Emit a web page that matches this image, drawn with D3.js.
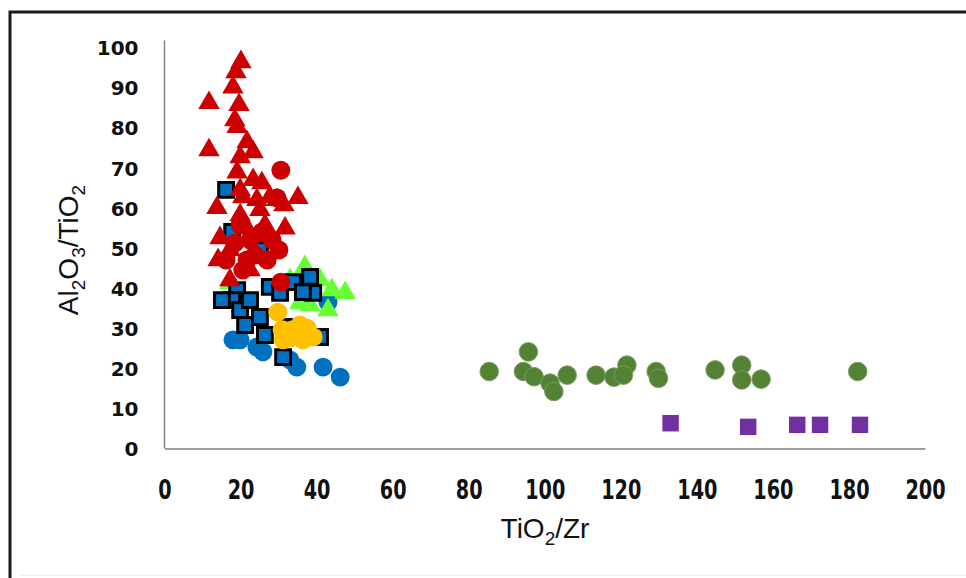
<!DOCTYPE html>
<html>
<head>
<meta charset="utf-8">
<script src="https://cdn.jsdelivr.net/npm/d3@7"></script>
<style>
  body { margin: 0; background: #fff; }
  svg { display: block; }
</style>
</head>
<body>
<svg id="chart" width="966" height="578"></svg>
<script>
// axis ticks
const xTicks = [0, 20, 40, 60, 80, 100, 120, 140, 160, 180, 200];
const yTicks = [0, 10, 20, 30, 40, 50, 60, 70, 80, 90, 100];

// [TiO2/Zr, Al2O3/TiO2]
const redTriangles = [
  [20.1, 96.4], [18.8, 93.9], [18.0, 90.1], [11.7, 86.2], [19.6, 85.7],
  [18.5, 81.9], [19.1, 80.2], [11.7, 74.4], [21.7, 76.4], [19.9, 72.7],
  [23.3, 73.9], [19.1, 68.9], [23.3, 67.0], [25.6, 66.2], [20.6, 62.7],
  [29.6, 62.0], [35.1, 62.5], [13.8, 60.0], [27.7, 62.7], [31.4, 60.7],
  [25.1, 59.5], [24.3, 62.0], [14.6, 52.5], [14.1, 47.0], [19.9, 64.5],
  [21.2, 55.7], [17.2, 49.5], [22.5, 44.5], [19.9, 58.2], [31.7, 54.9],
  [26.4, 55.7], [17.2, 42.0]
];
const redCircles = [
  [30.6, 69.4], [29.6, 62.5], [18.5, 51.2], [21.7, 47.0], [27.0, 47.0],
  [20.6, 44.5], [28.3, 52.0], [30.1, 49.5], [23.8, 48.3], [16.2, 47.0],
  [25.6, 54.0], [19.9, 55.7], [30.6, 41.5], [22.5, 52.0]
];
const blackSquares = [
  [16.2, 64.5], [17.8, 54.0], [25.1, 49.5], [19.1, 39.5], [17.8, 37.0],
  [19.9, 34.5], [22.5, 37.0], [25.1, 32.8], [26.4, 28.3], [31.2, 22.8],
  [27.7, 40.3], [30.4, 38.8], [33.8, 41.5], [38.3, 42.8], [39.1, 38.8],
  [36.4, 39.0], [40.9, 27.8], [32.2, 30.3], [15.1, 37.0], [21.2, 30.8]
];
const blueCircles = [
  [19.9, 27.1], [18.0, 27.1], [24.3, 25.3], [25.9, 24.1], [33.0, 22.1],
  [34.8, 20.3], [41.7, 20.3], [46.2, 17.8], [43.0, 36.5]
];
const greenTriangles = [
  [36.9, 45.3], [47.5, 38.8], [43.0, 34.5], [38.3, 35.8], [35.6, 36.3],
  [17.2, 41.3], [40.9, 42.0], [44.0, 39.5], [33.0, 42.0]
];
const yellowCircles = [
  [29.8, 34.0], [30.9, 29.6], [33.8, 29.6], [37.5, 30.0], [39.1, 27.8],
  [33.0, 27.6], [36.4, 27.1], [31.2, 27.1], [35.6, 30.8]
];
const oliveCircles = [
  [85.4, 19.2], [95.7, 24.1], [94.4, 19.2], [97.2, 17.9], [101.4, 16.3],
  [102.4, 14.2], [105.9, 18.3], [113.5, 18.3], [118.2, 17.8], [121.6, 20.8],
  [120.7, 18.3], [129.3, 19.2], [129.9, 17.5], [144.8, 19.6], [151.8, 20.8],
  [151.8, 17.1], [156.9, 17.3], [182.3, 19.2]
];
const purpleSquares = [
  [133.1, 6.3], [153.5, 5.4], [166.4, 5.9], [172.4, 5.9], [182.9, 5.9]
];

const svg = d3.select("#chart");

// outer frame (top and left edges visible, rest runs off the picture)
svg.append("rect")
  .attr("x", 10).attr("y", 12)
  .attr("width", 1000).attr("height", 600)
  .attr("fill", "none").attr("stroke", "#1a1a1a").attr("stroke-width", 3);
// faint inner edge near the bottom
svg.append("line")
  .attr("x1", 20).attr("x2", 966).attr("y1", 575.5).attr("y2", 575.5)
  .attr("stroke", "#eeeeee").attr("stroke-width", 1);

// scales
const x = d3.scaleLinear().domain([0, 200]).range([164.5, 925]);
const y = d3.scaleLinear().domain([0, 100]).range([448.5, 47.5]);

// axis lines, no tick marks
const xAxis = svg.append("g")
  .attr("transform", `translate(0,${y(0)})`)
  .call(d3.axisBottom(x).tickValues(xTicks).tickSize(0).tickPadding(41));
const yAxis = svg.append("g")
  .attr("transform", `translate(${x(0)},0)`)
  .call(d3.axisLeft(y).tickValues(yTicks).tickSize(0).tickPadding(26));

xAxis.select(".domain").attr("stroke", "#808080").attr("stroke-width", 1.5);
yAxis.select(".domain").attr("stroke", "#808080").attr("stroke-width", 1.5)
  .attr("d", `M0,${y(0)}V${y(0) - 408}`);

xAxis.selectAll("text")
  .attr("font-family", "'DejaVu Sans', sans-serif")
  .attr("font-weight", "bold").attr("font-size", 26).attr("fill", "#111")
  .attr("dy", "0.36em")
  .attr("transform", "scale(0.74,1)");
yAxis.selectAll("text")
  .attr("font-family", "'DejaVu Sans', sans-serif")
  .attr("font-weight", "bold").attr("font-size", 20).attr("fill", "#111")
  .attr("dy", "0.36em");

// axis titles with subscripts
const yTitle = svg.append("text")
  .attr("transform", "translate(78,250) rotate(-90)")
  .attr("text-anchor", "middle")
  .attr("font-family", "'Liberation Sans', Arial, sans-serif")
  .attr("font-size", 28).attr("fill", "#111");
[["Al", 0], ["2", 1], ["O", 0], ["3", 1], ["/TiO", 0], ["2", 1]].forEach(([t, sub]) => {
  yTitle.append("tspan")
    .attr("font-size", sub ? 19 : 28)
    .attr("dy", sub ? 7 : (t === "Al" ? 0 : -7))
    .text(t);
});

const xTitle = svg.append("text")
  .attr("x", 545).attr("y", 538)
  .attr("text-anchor", "middle")
  .attr("font-family", "'Liberation Sans', Arial, sans-serif")
  .attr("font-size", 28).attr("fill", "#111");
[["TiO", 0], ["2", 1], ["/Zr", 0]].forEach(([t, sub]) => {
  xTitle.append("tspan")
    .attr("font-size", sub ? 19 : 28)
    .attr("dy", sub ? 7 : (t === "TiO" ? 0 : -7))
    .text(t);
});

// draws one series of markers
function drawSeries(data, symbol, size, fill, stroke, strokeWidth) {
  svg.append("g").selectAll("path")
    .data(data)
    .enter()
    .append("path")
    .attr("transform", d => `translate(${x(d[0])},${y(d[1])})`)
    .attr("d", d3.symbol().type(symbol).size(size))
    .attr("fill", fill)
    .attr("stroke", stroke)
    .attr("stroke-width", strokeWidth);
}

drawSeries(blueCircles, d3.symbolCircle, 280, "#0070C0", "none", 0);
drawSeries(greenTriangles, d3.symbolTriangle, 200, "#66FF33", "none", 0);
drawSeries(blackSquares, d3.symbolSquare, 220, "#0070C0", "#000", 3);
drawSeries(redCircles, d3.symbolCircle, 280, "#CC0000", "none", 0);
drawSeries(redTriangles, d3.symbolTriangle, 200, "#CC0000", "none", 0);
drawSeries(yellowCircles, d3.symbolCircle, 280, "#FFC000", "none", 0);
drawSeries(oliveCircles, d3.symbolCircle, 270, "#548235", "#7a9a60", 1);
drawSeries(purpleSquares, d3.symbolSquare, 270, "#7030A0", "none", 0);
</script>
</body>
</html>
